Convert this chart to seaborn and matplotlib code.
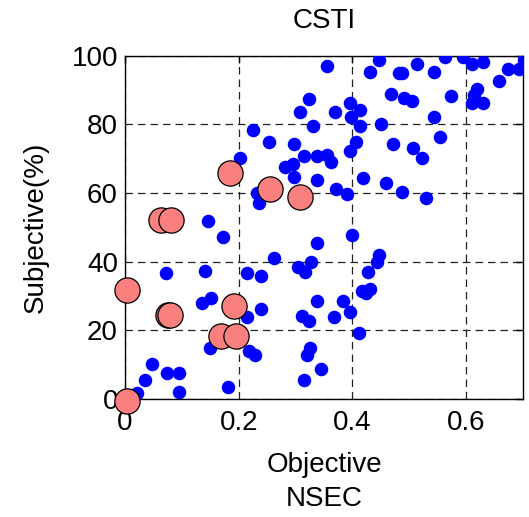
import pandas as pd
import matplotlib
matplotlib.use("Agg")
import matplotlib.pyplot as plt
import seaborn as sns

# all images (blue)
obj_all = [0.323, 0.307, 0.331, 0.226, 0.254, 0.298, 0.314, 0.203, 0.338, 0.282,
           0.296, 0.298, 0.338, 0.232, 0.235, 0.146, 0.172, 0.338, 0.355, 0.447,
           0.430, 0.481, 0.487, 0.514, 0.543, 0.562, 0.594, 0.610, 0.630, 0.658,
           0.673, 0.693, 0.701, 0.704, 0.370, 0.395, 0.414, 0.398, 0.414, 0.450,
           0.467, 0.491, 0.504, 0.543, 0.574, 0.619, 0.613, 0.610, 0.630, 0.407,
           0.395, 0.471, 0.506, 0.523, 0.554, 0.355, 0.363, 0.419, 0.459, 0.487,
           0.530, 0.371, 0.391, 0.399, 0.262, 0.305, 0.316, 0.328, 0.072, 0.140,
           0.215, 0.239, 0.136, 0.152, 0.239, 0.215, 0.311, 0.324, 0.338, 0.150,
           0.218, 0.228, 0.326, 0.320, 0.048, 0.035, 0.074, 0.096, 0.096, 0.182,
           0.021, 0.315, 0.344, 0.447, 0.443, 0.427, 0.431, 0.423, 0.417, 0.383,
           0.395, 0.367, 0.411]
subj_all = [87.5, 83.6, 79.6, 78.4, 75.0, 74.3, 70.9, 70.3, 70.9, 67.7,
            68.4, 64.6, 63.8, 60.0, 57.1, 51.9, 47.3, 45.5, 96.9, 98.8,
            95.4, 95.0, 95.0, 97.6, 95.4, 99.6, 99.6, 97.6, 98.2, 92.8,
            96.1, 96.1, 98.8, 100.0, 83.7, 86.4, 84.3, 82.3, 79.6, 80.2,
            88.9, 87.7, 86.9, 82.3, 88.3, 90.3, 88.6, 86.2, 86.2, 75.0,
            72.3, 74.3, 73.1, 70.3, 76.3, 71.1, 69.0, 64.5, 63.1, 60.4,
            58.5, 61.1, 59.8, 47.8, 41.2, 38.6, 37.1, 40.0, 36.8, 37.4,
            36.6, 35.9, 28.1, 29.4, 26.2, 24.0, 24.3, 22.7, 28.7, 14.8,
            14.1, 12.8, 14.8, 12.8, 10.2, 5.5, 7.5, 7.5, 2.1, 3.6,
            1.8, 5.5, 8.7, 42.0, 40.0, 37.1, 32.1, 31.0, 31.5, 28.7,
            25.3, 24.0, 19.3]

# highlighted images (salmon)
obj_sel = [0.184, 0.255, 0.307, 0.063, 0.081, 0.004, 0.076, 0.079, 0.192, 0.169, 0.195, 0.004]
subj_sel = [66.0, 61.3, 58.8, 52.2, 52.2, 31.8, 24.5, 24.5, 27.1, 18.3, 18.3, -0.6]

xticks = [0, 0.2, 0.4, 0.6]
xtick_labels = ["0", "0.2", "0.4", "0.6"]
yticks = [0, 20, 40, 60, 80, 100]

sns.set_style("white")
plt.rcParams['font.family'] = ['Liberation Sans', 'DejaVu Sans']
plt.rcParams['text.color'] = 'black'
plt.rcParams['axes.labelcolor'] = 'black'

df_all = pd.DataFrame({"obj": obj_all, "subj": subj_all})
df_sel = pd.DataFrame({"obj": obj_sel, "subj": subj_sel})

fig = plt.figure(figsize=(5.29, 5.17), dpi=100)
ax = fig.add_axes([0.236, 0.228, 0.753, 0.664])

sns.scatterplot(data=df_all, x="obj", y="subj", color="#0000ff", s=95,
                edgecolor="#0000ff", linewidth=0, ax=ax, zorder=3)
sns.scatterplot(data=df_sel, x="obj", y="subj", color="#fa8080", s=330,
                edgecolor="black", linewidth=0.9, ax=ax, zorder=4, clip_on=False)

ax.set_xlim(0, 0.7)
ax.set_ylim(0, 100)
ax.set_xticks(xticks)
ax.set_xticklabels(xtick_labels)
ax.set_yticks(yticks)

ax.grid(True, color="#222222", linestyle=(0, (6, 4)), linewidth=0.9)
ax.set_axisbelow(True)
for sp in ax.spines.values():
    sp.set_color("black")
    sp.set_linewidth(1.0)

ax.tick_params(direction="in", length=5, width=1, top=True, right=True,
               labelsize=20, colors="black")
ax.tick_params(axis="x", pad=8)
ax.tick_params(axis="y", pad=5)

ax.set_title("CSTI", fontsize=20, pad=20, color="black")
ax.set_xlabel("Objective\nNSEC", fontsize=20, linespacing=1.4, labelpad=11)
ax.set_ylabel("Subjective(%)", fontsize=20, labelpad=16)

fig.savefig("out.png", dpi=100)
